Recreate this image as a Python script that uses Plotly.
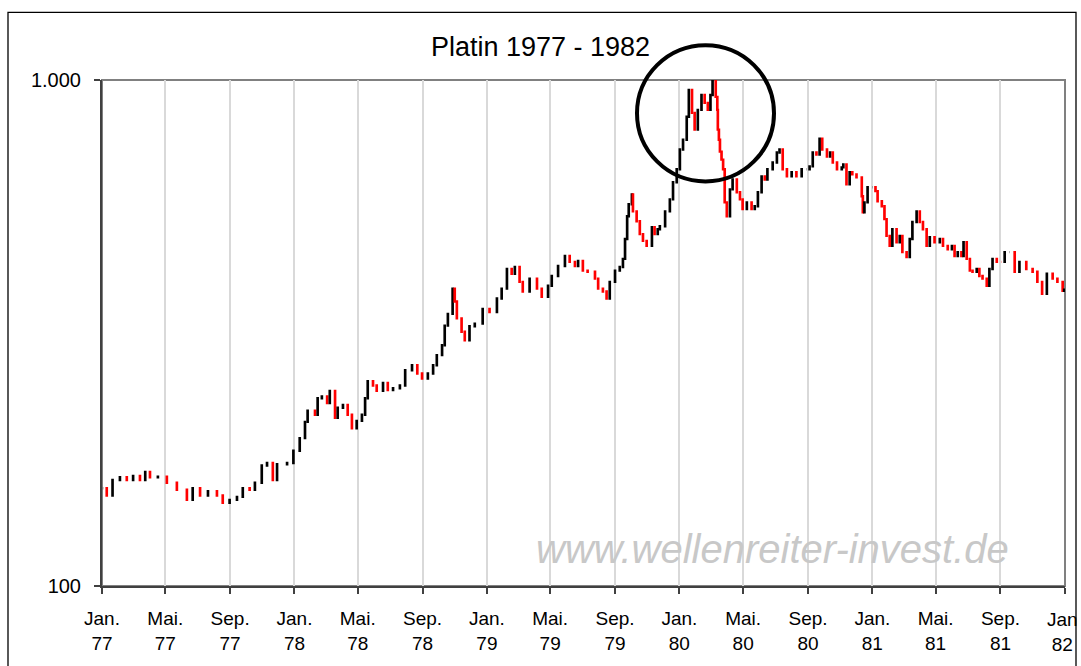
import plotly.graph_objects as go

dates = [
"1977-01-03","1977-01-10","1977-01-21","1977-02-04","1977-02-17","1977-03-01","1977-03-14","1977-03-24","1977-04-02","1977-04-17",
"1977-05-04","1977-05-23","1977-06-11","1977-06-22","1977-07-06","1977-07-21","1977-08-07","1977-08-18","1977-08-31","1977-09-14",
"1977-09-25","1977-10-08","1977-10-18","1977-10-31","1977-11-10","1977-11-21","1977-11-29","1977-12-18","1977-12-30","1978-01-11",
"1978-01-21","1978-01-26","1978-02-09","1978-02-14","1978-02-22","1978-03-04","1978-03-09","1978-03-19","1978-03-24","1978-04-03",
"1978-04-12","1978-04-20","1978-04-29","1978-05-09","1978-05-15","1978-05-20","1978-05-30","1978-06-06","1978-06-18","1978-06-27",
"1978-07-07","1978-07-20","1978-07-30","1978-08-12","1978-08-22","1978-08-31","1978-09-11","1978-09-21","1978-09-28","1978-10-08",
"1978-10-13","1978-10-19","1978-10-28","1978-11-01","1978-11-05","1978-11-14","1978-11-20","1978-11-29","1978-12-09","1978-12-24",
"1979-01-06","1979-01-20","1979-01-29","1979-02-08","1979-02-17","1979-02-23","1979-03-04","1979-03-10","1979-03-23","1979-04-06",
"1979-04-15","1979-04-27","1979-05-04","1979-05-16","1979-05-29","1979-06-07","1979-06-17","1979-06-23","1979-07-02","1979-07-11",
"1979-07-25","1979-07-31","1979-08-09","1979-08-16","1979-08-22","1979-09-01","1979-09-10","1979-09-16","1979-09-20","1979-09-24",
"1979-09-27","1979-10-03","1979-10-05","1979-10-12","1979-10-18","1979-10-24","1979-10-31","1979-11-10","1979-11-15","1979-11-21",
"1979-11-25","1979-12-05","1979-12-14","1979-12-20","1979-12-27","1980-01-02","1980-01-08","1980-01-15","1980-01-19","1980-01-25",
"1980-01-30","1980-02-05","1980-02-12","1980-02-18","1980-02-24","1980-02-29","1980-03-04","1980-03-10","1980-03-13","1980-03-14",
"1980-03-16","1980-03-18","1980-03-21","1980-03-24","1980-03-27","1980-03-31","1980-04-06","1980-04-11","1980-04-19","1980-04-25",
"1980-04-30","1980-05-08","1980-05-17","1980-05-23","1980-05-29","1980-06-05","1980-06-11","1980-06-16","1980-06-26","1980-07-04",
"1980-07-09","1980-07-15","1980-07-23","1980-08-01","1980-08-10","1980-08-20","1980-08-29","1980-09-04","1980-09-10","1980-09-17",
"1980-09-23","1980-09-28","1980-10-07","1980-10-13","1980-10-18","1980-10-26","1980-11-04","1980-11-07","1980-11-13","1980-11-19",
"1980-11-24","1980-12-02","1980-12-12","1980-12-14","1980-12-17","1980-12-23","1981-01-02","1981-01-07","1981-01-11","1981-01-19",
"1981-01-24","1981-01-28","1981-02-03","1981-02-08","1981-02-16","1981-02-22","1981-02-27","1981-03-07","1981-03-13","1981-03-18",
"1981-03-26","1981-04-01","1981-04-07","1981-04-14","1981-04-20","1981-04-29","1981-05-09","1981-05-15","1981-05-24","1981-06-01",
"1981-06-06","1981-06-12","1981-06-19","1981-06-23","1981-06-29","1981-07-05","1981-07-10","1981-07-18","1981-07-23","1981-07-29",
"1981-08-06","1981-08-11","1981-08-17","1981-08-25","1981-09-03","1981-09-09","1981-09-18","1981-09-28","1981-10-07","1981-10-20",
"1981-11-01","1981-11-10","1981-11-19","1981-11-28","1981-12-09","1981-12-18","1981-12-28","1981-12-31"]

closes = [
156,151,162,164,162,165,162,168,164,164.5,
160,155,148,156,151,154,151,146,148,150,
156,155,160,173,175,162,174,175,185,196,
211,222,218,235,237,230,243,215,225,228,
218,205,212,218,235,254,249,243,252,244,
246,249,267,273,263,257,263,273,286,299,
327,345,387,365,338,318,306,326,330,353,
348,370,387,423,414,427,399,382,405,387,
373,392,410,429,449,437,429,439,420,418,
405,387,382,370,399,420,427,443,485,538,
568,594,550,526,496,481,470,512,496,507,
514,550,581,628,666,729,762,846,956,861,
798,873,934,901,873,934,995,926,873,798,
762,722,696,666,573,538,608,636,600,581,
556,573,556,563,600,645,636,666,687,719,
729,666,645,657,645,666,666,675,719,712,
766,729,706,719,687,666,672,681,622,657,
651,642,589,548,573,614,614,603,576,563,
531,492,470,507,478,492,457,447,485,524,
550,524,507,470,489,478,485,470,463,470,
449,457,449,478,443,420,418,423,410,405,
392,423,443,437,437,457,457,418,437,423,
418,399,378,414,405,399,383,385]

tick_dates = ["1977-01-01","1977-05-01","1977-09-01","1978-01-01","1978-05-01","1978-09-01",
              "1979-01-01","1979-05-01","1979-09-01","1980-01-01","1980-05-01","1980-09-01",
              "1981-01-01","1981-05-01","1981-09-01","1982-01-01"]
tick_text = ["Jan.<br>77","Mai.<br>77","Sep.<br>77","Jan.<br>78","Mai.<br>78","Sep.<br>78",
             "Jan.<br>79","Mai.<br>79","Sep.<br>79","Jan.<br>80","Mai.<br>80","Sep.<br>80",
             "Jan.<br>81","Mai.<br>81","Sep.<br>81","Jan<br>82"]
y_ticks = [100, 1000]
y_tick_text = ["100", "1.000"]

opens = [closes[0]] + closes[:-1]
highs = [max(o, c) for o, c in zip(opens, closes)]
lows = [min(o, c) for o, c in zip(opens, closes)]

FONT = "Liberation Sans, Arial, sans-serif"

fig = go.Figure()
fig.add_trace(go.Candlestick(
    x=dates, open=opens, high=highs, low=lows, close=closes,
    increasing=dict(line=dict(color="black", width=2.4), fillcolor="black"),
    decreasing=dict(line=dict(color="#ff0000", width=2.4), fillcolor="#ff0000"),
    whiskerwidth=0, showlegend=False, hoverinfo="skip",
))

W, H = 1081, 666
L, R, T, B = 102, 1065, 80, 589
pw, ph = R - L, B - T

def px(x):
    return (x - L) / pw

def py(y):
    return (B - y) / ph

shapes = [
    dict(type="rect", xref="paper", yref="paper", x0=px(8), x1=px(1076), y0=py(700), y1=py(12),
         line=dict(color="black", width=1.3), layer="below"),
    dict(type="rect", xref="paper", yref="paper", x0=0, x1=1, y0=0, y1=1,
         line=dict(color="#808080", width=2), layer="below"),
    dict(type="circle", xref="paper", yref="paper", x0=px(637), x1=px(774), y0=py(182), y1=py(45),
         line=dict(color="black", width=4)),
]

# the last tick label sits on the figure edge; plotly drops it, so it is drawn as an annotation
annotations = [
    dict(text="www.wellenreiter-invest.de", xref="paper", yref="paper",
         x=px(772), y=py(552), xanchor="center", yanchor="middle", showarrow=False,
         font=dict(family=FONT, size=40, color="#c8c8c8", style="italic")),
    dict(text=tick_text[-1], xref="paper", yref="paper", x=px(1080), y=py(610),
         xanchor="right", yanchor="top", showarrow=False, align="center",
         font=dict(family=FONT, size=19, color="black")),
]

fig.update_layout(
    width=W, height=H, autosize=False,
    margin=dict(l=L, r=W - R, t=T, b=H - B),
    paper_bgcolor="white", plot_bgcolor="white",
    font=dict(family=FONT, size=19, color="black"),
    title=dict(text="Platin 1977 - 1982", x=0.5, xref="container", xanchor="center",
               y=1 - 47 / H, yref="container", yanchor="middle",
               font=dict(family=FONT, size=27, color="black")),
    shapes=shapes,
    annotations=annotations,
    xaxis=dict(type="date", range=["1977-01-01", "1982-01-01 10:00"], tickvals=tick_dates,
               ticktext=tick_text[:-1] + [""],
               showgrid=True, gridcolor="#d9d9d9", gridwidth=1.5,
               showline=True, linecolor="#404040", linewidth=2, ticks="outside", ticklen=6,
               tickcolor="#404040", tickwidth=1.5, rangeslider=dict(visible=False),
               tickangle=0, zeroline=False, ticklabelstandoff=8),
    yaxis=dict(type="log", range=[2, 3], tickvals=y_ticks, ticktext=y_tick_text,
               showgrid=False, showline=True, linecolor="#404040", linewidth=2,
               ticks="outside", ticklen=6, tickcolor="#404040", tickwidth=1.5, zeroline=False,
               ticklabelstandoff=9, tickfont=dict(size=20)),
)

post = ("document.body.style.margin='0';document.body.style.padding='0';"
        "document.body.style.overflow='hidden';"
        "var gd=document.getElementById('{plot_id}');"
        "Plotly.relayout(gd,{width:1081,height:666});")

fig.write_html("out.html", post_script=post,
               config={"responsive": False, "displayModeBar": False})
